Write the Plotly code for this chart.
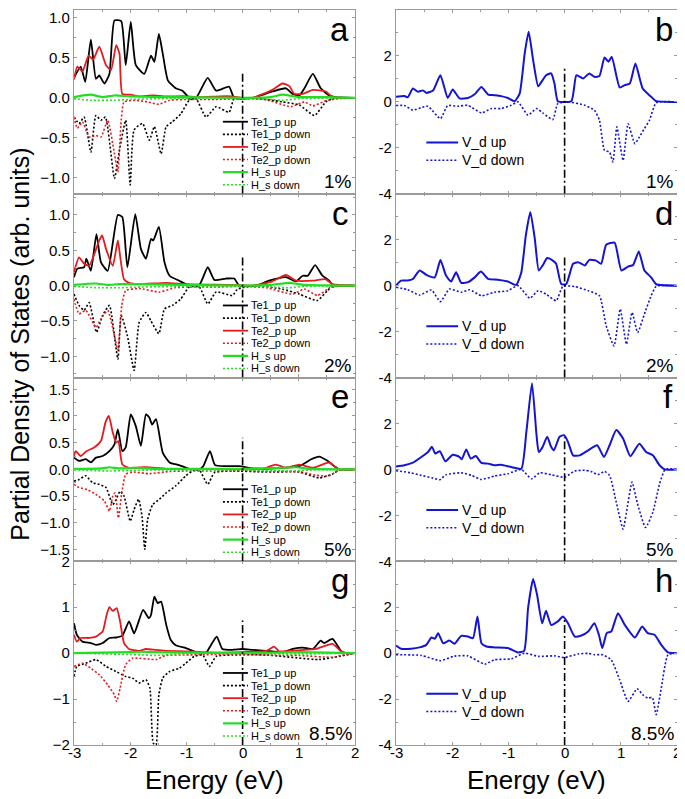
import plotly.graph_objects as go
from plotly.subplots import make_subplots

# ---------------- data (energy in eV, PDOS in arb. units) ----------------
STRAINS = ["1%", "2%", "5%", "8.5%"]
LEFT_LETTERS = ["a", "c", "e", "g"]
RIGHT_LETTERS = ["b", "d", "f", "h"]
ENERGY_TICKS = [-3, -2, -1, 0, 1, 2]
LEFT_YRANGES = [[-1.2, 1.1], [-1.3, 1.3], [-1.72, 1.72], [-2, 2]]
RIGHT_YRANGE = [-4, 4]
FERMI_TOP_LEFT = [0.33, 0.42, 0.59, 0.71]
FERMI_TOP_RIGHT = [1.53, 1.24, 1.40, 1.53]
LEFT_NAMES = ["Te1_p up", "Te1_p down", "Te2_p up", "Te2_p down", "H_s up", "H_s down"]
RIGHT_NAMES = ["V_d up", "V_d down"]

# ---- panel a (1%) ----
a_te1_up = [(-3.0,0.25),(-2.88,0.39),(-2.80,0.2),(-2.70,0.73),(-2.61,0.24),(-2.55,0.28),(-2.46,0.18),(-2.37,0.30),(-2.28,0.97),(-2.16,0.96),(-2.08,0.41),(-1.99,0.95),(-1.90,0.41),(-1.75,0.30),(-1.63,0.53),(-1.57,0.45),(-1.49,0.80),(-1.42,0.55),(-1.33,0.22),(-1.19,0.12),(-1.07,0.09),(-0.95,0.0),(-0.83,0.0),(-0.62,0.25),(-0.47,0.09),(-0.24,0.14),(-0.15,0.0),(0.18,0.0),(0.53,0.08),(0.77,0.12),(0.89,0.05),(1.01,0.03),(1.10,0.12),(1.25,0.30),(1.39,0.12),(1.54,0.03),(1.66,0.01),(2.0,0.0)]
a_te1_dn = [(-3.0,-0.24),(-2.91,-0.32),(-2.82,-0.24),(-2.70,-0.68),(-2.61,-0.22),(-2.52,-0.28),(-2.44,-0.24),(-2.28,-1.01),(-2.19,-0.65),(-2.08,-0.28),(-2.00,-1.09),(-1.93,-0.40),(-1.78,-0.32),(-1.66,-0.53),(-1.57,-0.36),(-1.45,-0.70),(-1.36,-0.36),(-1.25,-0.30),(-1.10,-0.20),(-0.95,-0.03),(-0.83,-0.01),(-0.65,-0.24),(-0.47,-0.11),(-0.24,-0.18),(-0.15,-0.01),(0.18,0.0),(0.71,-0.05),(1.01,-0.09),(1.28,-0.22),(1.48,-0.05),(1.60,-0.01),(2.0,0.0)]
a_te2_up = [(-3.0,0.23),(-2.94,0.39),(-2.85,0.33),(-2.74,0.53),(-2.66,0.48),(-2.55,0.64),(-2.43,0.41),(-2.34,0.35),(-2.25,0.66),(-2.19,0.55),(-2.14,0.05),(-1.99,0.04),(-1.84,0.02),(-1.6,0.03),(-1.4,0.02),(-1.0,0.02),(-0.8,0.01),(-0.4,0.02),(-0.2,0.02),(0.0,0.0),(0.18,0.0),(0.53,0.10),(0.71,0.18),(0.83,0.15),(0.92,0.05),(1.07,0.05),(1.25,0.10),(1.48,0.08),(1.60,0.01),(2.0,0.0)]
a_te2_dn = [(-3.0,-0.24),(-2.94,-0.38),(-2.85,-0.30),(-2.73,-0.49),(-2.61,-0.47),(-2.52,-0.49),(-2.40,-0.28),(-2.28,-0.70),(-2.22,-0.93),(-2.16,-0.28),(-2.11,-0.05),(-1.9,-0.03),(-1.7,-0.05),(-1.49,-0.08),(-1.3,-0.03),(-1.0,-0.02),(-0.5,-0.02),(0.0,-0.01),(0.4,-0.02),(0.86,-0.11),(1.1,-0.05),(1.25,-0.10),(1.5,-0.03),(1.7,-0.01),(2.0,0.0)]
a_h_up = [(-3.0,0.01),(-2.7,0.04),(-2.5,0.01),(-2.28,0.03),(-2.0,0.02),(-1.5,0.01),(-1.0,0.01),(0.0,0.0),(0.5,0.01),(0.71,0.04),(1.0,0.01),(1.5,0.01),(2.0,0.0)]
a_h_dn = [(-3.0,-0.01),(-2.7,-0.03),(-2.28,-0.03),(-2.0,-0.02),(-1.5,-0.01),(0.0,0.0),(0.71,-0.03),(1.0,-0.01),(2.0,0.0)]

# ---- panel b (1%) ----
b_up = [(-3.0,0.22),(-2.85,0.26),(-2.79,0.20),(-2.70,0.58),(-2.61,0.44),(-2.52,0.50),(-2.46,0.39),(-2.34,0.50),(-2.21,1.16),(-2.08,0.17),(-1.99,0.54),(-1.87,0.15),(-1.72,0.17),(-1.60,0.33),(-1.48,0.65),(-1.36,0.32),(-1.25,0.29),(-1.13,0.25),(-1.01,0.17),(-0.89,0.03),(-0.80,0.36),(-0.71,2.11),(-0.64,3.05),(-0.56,1.82),(-0.47,0.68),(-0.39,0.95),(-0.33,1.16),(-0.24,1.24),(-0.18,0.80),(-0.12,0.03),(0.12,0.03),(0.21,1.16),(0.33,1.02),(0.44,1.24),(0.53,1.09),(0.62,1.13),(0.71,1.93),(0.78,1.75),(0.84,1.96),(0.98,0.63),(1.07,0.73),(1.16,0.80),(1.26,1.67),(1.39,0.58),(1.54,0.22),(1.63,0.03),(2.0,0.0)]
b_dn = [(-3.0,-0.16),(-2.85,-0.16),(-2.70,-0.36),(-2.55,-0.25),(-2.43,-0.19),(-2.21,-0.73),(-2.08,-0.16),(-1.90,-0.19),(-1.72,-0.15),(-1.48,-0.48),(-1.30,-0.29),(-1.13,-0.29),(-0.95,-0.15),(-0.83,0.0),(-0.65,-0.58),(-0.50,-0.29),(-0.39,-0.48),(-0.21,-0.77),(-0.12,-0.07),(0.06,0.0),(0.36,-0.15),(0.53,-0.36),(0.62,-0.80),(0.71,-2.11),(0.80,-2.18),(0.86,-2.62),(0.93,-1.09),(1.04,-2.55),(1.13,-0.95),(1.25,-1.82),(1.33,-1.53),(1.42,-1.16),(1.51,-0.80),(1.63,-0.04),(2.0,0.0)]

# ---- panel c (2%) ----
c_te1_up = [(-3.0,0.12),(-2.94,0.24),(-2.82,0.26),(-2.78,0.38),(-2.70,0.21),(-2.60,0.73),(-2.52,0.33),(-2.40,0.21),(-2.22,1.00),(-2.14,0.97),(-2.05,0.26),(-1.91,1.01),(-1.81,0.52),(-1.72,0.38),(-1.63,0.66),(-1.59,0.64),(-1.49,0.83),(-1.39,0.33),(-1.30,0.14),(-1.13,0.07),(-0.98,0.01),(-0.77,0.01),(-0.62,0.26),(-0.50,0.08),(-0.30,0.10),(-0.15,0.10),(-0.06,0.0),(0.24,0.0),(0.47,0.07),(0.77,0.12),(0.95,0.06),(1.07,0.14),(1.16,0.14),(1.29,0.29),(1.42,0.14),(1.54,0.07),(1.60,0.01),(2.0,0.0)]
c_te1_dn = [(-3.0,-0.12),(-2.91,-0.28),(-2.82,-0.35),(-2.73,-0.24),(-2.60,-0.66),(-2.49,-0.42),(-2.37,-0.28),(-2.22,-1.04),(-2.16,-0.42),(-2.05,-0.71),(-1.93,-1.20),(-1.84,-0.52),(-1.72,-0.38),(-1.63,-0.50),(-1.49,-0.68),(-1.39,-0.33),(-1.25,-0.28),(-1.10,-0.19),(-0.95,-0.02),(-0.77,-0.02),(-0.62,-0.26),(-0.47,-0.09),(-0.18,-0.14),(-0.09,-0.05),(0.24,0.0),(0.71,-0.05),(1.01,-0.12),(1.33,-0.21),(1.51,-0.07),(1.60,-0.01),(2.0,0.0)]
c_te2_up = [(-3.0,0.19),(-2.91,0.40),(-2.82,0.31),(-2.73,0.28),(-2.55,0.64),(-2.50,0.71),(-2.43,0.52),(-2.31,0.28),(-2.22,0.64),(-2.18,0.42),(-2.11,0.09),(-2.02,0.04),(-1.84,0.02),(-1.36,0.04),(-1.01,0.02),(-0.18,0.01),(0.18,0.0),(0.53,0.06),(0.77,0.15),(0.95,0.07),(1.25,0.07),(1.48,0.09),(1.60,0.02),(2.0,0.0)]
c_te2_dn = [(-3.0,-0.19),(-2.91,-0.40),(-2.79,-0.35),(-2.61,-0.59),(-2.52,-0.47),(-2.40,-0.35),(-2.28,-0.71),(-2.22,-0.92),(-2.15,-0.28),(-2.08,-0.07),(-1.84,-0.04),(-1.48,-0.09),(-1.2,-0.03),(-1.0,-0.02),(-0.5,-0.02),(0.0,-0.01),(0.42,-0.03),(0.89,-0.12),(1.1,-0.05),(1.33,-0.14),(1.55,-0.03),(1.7,-0.01),(2.0,0.0)]
c_h_up = [(-3.0,0.01),(-2.61,0.03),(-2.4,0.01),(-2.2,0.02),(-1.8,0.02),(-1.0,0.01),(0.0,0.0),(0.5,0.01),(0.83,0.04),(1.1,0.01),(2.0,0.0)]
c_h_dn = [(-3.0,-0.01),(-2.61,-0.03),(-2.2,-0.03),(-1.8,-0.02),(-1.0,-0.01),(0.0,0.0),(0.83,-0.03),(1.1,-0.01),(2.0,0.0)]

# ---- panel d (2%) ----
d_up = [(-3.0,0.0),(-2.91,0.22),(-2.79,0.22),(-2.70,0.29),(-2.58,0.66),(-2.46,0.47),(-2.31,0.36),(-2.21,1.12),(-2.11,0.44),(-2.02,0.18),(-1.93,0.58),(-1.84,0.12),(-1.72,0.15),(-1.60,0.36),(-1.49,0.61),(-1.36,0.29),(-1.19,0.26),(-1.01,0.18),(-0.86,0.03),(-0.77,0.58),(-0.69,2.19),(-0.61,3.21),(-0.53,2.04),(-0.46,0.66),(-0.39,0.88),(-0.31,1.20),(-0.21,1.09),(-0.15,0.95),(-0.06,0.07),(0.03,0.07),(0.15,0.95),(0.24,1.02),(0.36,0.88),(0.44,1.12),(0.56,1.09),(0.65,0.95),(0.74,1.78),(0.89,1.87),(1.01,0.66),(1.13,0.83),(1.22,0.90),(1.32,1.49),(1.42,0.66),(1.54,0.36),(1.63,0.06),(2.0,0.0)]
d_dn = [(-3.0,-0.07),(-2.79,-0.18),(-2.58,-0.41),(-2.37,-0.19),(-2.21,-0.70),(-2.05,-0.15),(-1.84,-0.29),(-1.69,-0.18),(-1.48,-0.44),(-1.25,-0.29),(-1.01,-0.22),(-0.83,0.0),(-0.62,-0.55),(-0.47,-0.22),(-0.33,-0.37),(-0.15,-0.66),(-0.03,-0.03),(0.18,-0.04),(0.42,-0.22),(0.62,-0.44),(0.74,-1.75),(0.88,-2.63),(0.99,-1.02),(1.10,-2.55),(1.20,-1.17),(1.30,-2.04),(1.42,-1.24),(1.54,-0.44),(1.63,-0.03),(2.0,0.0)]

# ---- panel e (5%) ----
e_te1_up = [(-3.0,0.22),(-2.91,0.16),(-2.79,0.19),(-2.70,0.13),(-2.61,0.22),(-2.49,0.25),(-2.37,0.34),(-2.28,0.47),(-2.22,0.75),(-2.14,0.34),(-2.08,0.41),(-1.99,1.03),(-1.90,0.81),(-1.81,0.44),(-1.72,1.03),(-1.66,0.97),(-1.61,0.84),(-1.54,0.94),(-1.42,0.31),(-1.30,0.13),(-1.13,0.08),(-0.95,0.01),(-0.77,0.0),(-0.70,0.06),(-0.58,0.34),(-0.49,0.08),(-0.30,0.06),(-0.06,0.06),(0.18,0.02),(0.42,0.01),(1.01,0.06),(1.22,0.19),(1.36,0.24),(1.51,0.16),(1.63,0.06),(1.72,0.0),(2.0,0.0)]
e_te1_dn = [(-3.0,-0.22),(-2.91,-0.19),(-2.79,-0.12),(-2.67,-0.25),(-2.55,-0.28),(-2.43,-0.34),(-2.31,-0.66),(-2.25,-0.56),(-2.18,-0.41),(-2.11,-0.50),(-2.00,-0.97),(-1.93,-0.75),(-1.85,-0.56),(-1.79,-0.88),(-1.74,-1.50),(-1.69,-0.94),(-1.60,-0.66),(-1.48,-0.56),(-1.36,-0.44),(-1.19,-0.31),(-1.01,-0.12),(-0.86,-0.01),(-0.77,-0.01),(-0.62,-0.28),(-0.50,-0.06),(-0.18,-0.03),(0.42,-0.05),(1.01,-0.05),(1.36,-0.16),(1.60,-0.09),(1.72,-0.01),(2.0,0.0)]
e_te2_up = [(-3.0,0.25),(-2.97,0.34),(-2.88,0.25),(-2.78,0.34),(-2.64,0.41),(-2.52,0.53),(-2.44,0.88),(-2.38,1.00),(-2.31,0.69),(-2.25,0.50),(-2.21,0.53),(-2.14,0.09),(-2.02,0.03),(-1.72,0.04),(-1.36,0.01),(-0.5,0.01),(0.18,0.0),(0.42,0.03),(0.59,0.09),(0.77,0.03),(1.01,0.09),(1.25,0.03),(1.54,0.13),(1.63,0.06),(1.72,0.0),(2.0,0.0)]
e_te2_dn = [(-3.0,-0.28),(-2.91,-0.34),(-2.76,-0.38),(-2.61,-0.47),(-2.46,-0.59),(-2.37,-0.78),(-2.31,-0.50),(-2.27,-0.44),(-2.21,-0.91),(-2.15,-0.44),(-2.08,-0.09),(-1.96,-0.05),(-1.66,-0.08),(-1.3,-0.04),(-1.01,-0.03),(-0.5,-0.03),(0.0,-0.02),(0.5,-0.04),(1.0,-0.04),(1.30,-0.11),(1.54,-0.12),(1.72,-0.01),(2.0,0.0)]
e_h_up = [(-3.0,0.01),(-2.5,0.02),(-2.37,0.04),(-2.2,0.02),(-1.9,0.03),(-1.5,0.01),(0.0,0.01),(0.5,0.02),(0.95,0.04),(1.2,0.01),(2.0,0.0)]
e_h_dn = [(-3.0,-0.01),(-2.37,-0.03),(-2.0,-0.02),(-1.5,-0.01),(0.0,-0.01),(0.95,-0.03),(1.2,-0.01),(2.0,0.0)]

# ---- panel f (5%) ----
f_up = [(-3.0,0.13),(-2.85,0.18),(-2.70,0.29),(-2.55,0.54),(-2.43,0.76),(-2.36,0.98),(-2.30,0.69),(-2.22,0.79),(-2.12,0.35),(-1.99,0.64),(-1.87,0.54),(-1.83,0.44),(-1.75,0.86),(-1.67,0.47),(-1.58,0.58),(-1.48,0.28),(-1.36,0.25),(-1.25,0.18),(-1.13,0.20),(-0.95,0.10),(-0.77,0.03),(-0.68,1.64),(-0.58,3.75),(-0.50,1.50),(-0.46,0.76),(-0.39,0.98),(-0.31,1.42),(-0.24,0.98),(-0.19,0.83),(-0.09,1.42),(-0.01,1.49),(0.06,1.20),(0.15,0.61),(0.27,0.61),(0.42,0.83),(0.58,1.05),(0.70,0.54),(0.80,1.05),(0.92,1.71),(1.04,1.34),(1.17,0.57),(1.33,1.12),(1.45,0.76),(1.57,0.61),(1.69,0.18),(1.78,0.0),(2.0,0.0)]
f_dn = [(-3.0,-0.06),(-2.73,-0.15),(-2.55,-0.26),(-2.34,-0.38),(-2.22,-0.45),(-2.11,-0.23),(-1.84,-0.15),(-1.66,-0.26),(-1.48,-0.44),(-1.25,-0.29),(-1.01,-0.19),(-0.77,0.0),(-0.59,-0.41),(-0.44,-0.15),(-0.24,-0.23),(0.0,-0.34),(0.18,-0.07),(0.36,-0.04),(0.47,-0.09),(0.59,-0.23),(0.71,-0.09),(0.80,-0.26),(0.92,-1.43),(1.04,-2.60),(1.12,-1.58),(1.20,-0.55),(1.29,-1.43),(1.44,-2.53),(1.57,-1.87),(1.69,-0.63),(1.79,0.0),(2.0,0.0)]

# ---- panel g (8.5%) ----
g_te1_up = [(-3.0,0.65),(-2.95,0.40),(-2.85,0.25),(-2.70,0.22),(-2.61,0.18),(-2.49,0.22),(-2.37,0.33),(-2.25,0.34),(-2.14,0.38),(-2.02,0.69),(-1.93,0.43),(-1.77,0.94),(-1.67,0.76),(-1.63,0.83),(-1.57,1.23),(-1.51,1.09),(-1.45,1.12),(-1.36,0.62),(-1.28,0.29),(-1.19,0.17),(-1.01,0.11),(-0.83,0.02),(-0.65,0.01),(-0.58,0.14),(-0.46,0.36),(-0.36,0.09),(-0.18,0.07),(0.0,0.09),(0.18,0.07),(0.42,0.05),(0.71,0.02),(0.89,0.09),(1.07,0.12),(1.25,0.09),(1.39,0.27),(1.45,0.22),(1.60,0.31),(1.75,0.05),(1.84,0.0),(2.0,0.0)]
g_te1_dn = [(-3.0,-0.51),(-2.95,-0.29),(-2.79,-0.22),(-2.61,-0.14),(-2.43,-0.29),(-2.25,-0.40),(-2.08,-0.51),(-1.96,-0.54),(-1.84,-0.65),(-1.72,-0.58),(-1.65,-0.76),(-1.59,-1.96),(-1.54,-2.0),(-1.49,-0.91),(-1.42,-0.54),(-1.30,-0.40),(-1.13,-0.33),(-1.01,-0.22),(-0.86,-0.07),(-0.71,-0.04),(-0.59,-0.29),(-0.47,-0.07),(-0.18,-0.04),(0.42,-0.04),(1.36,-0.14),(1.72,-0.07),(2.0,0.0)]
g_te2_up = [(-3.0,0.40),(-2.95,0.25),(-2.88,0.33),(-2.73,0.33),(-2.61,0.36),(-2.49,0.47),(-2.42,0.83),(-2.37,1.00),(-2.31,0.92),(-2.24,0.98),(-2.18,0.69),(-2.11,0.22),(-2.02,0.09),(-1.84,0.05),(-1.72,0.09),(-1.54,0.07),(-1.36,0.05),(-1.01,0.04),(-0.5,0.01),(0.42,0.05),(0.56,0.14),(0.65,0.04),(0.89,0.05),(1.30,0.09),(1.60,0.20),(1.75,0.04),(1.84,0.0),(2.0,0.0)]
g_te2_dn = [(-3.0,-0.29),(-2.85,-0.22),(-2.70,-0.33),(-2.55,-0.47),(-2.40,-0.69),(-2.28,-0.91),(-2.24,-1.05),(-2.18,-0.76),(-2.08,-0.25),(-1.96,-0.11),(-1.54,-0.14),(-1.36,-0.05),(-1.0,-0.04),(-0.5,-0.03),(0.0,-0.03),(0.71,-0.05),(1.0,-0.05),(1.60,-0.09),(1.78,-0.04),(2.0,0.0)]
g_h_up = [(-3.0,0.0),(-2.0,0.02),(-1.8,0.03),(-1.55,0.02),(-1.0,0.01),(0.0,0.0),(0.5,0.01),(1.0,0.02),(1.5,0.01),(2.0,0.0)]
g_h_dn = [(-3.0,0.0),(-2.0,-0.03),(-1.8,-0.04),(-1.55,-0.05),(-1.0,-0.01),(0.0,0.0),(1.0,-0.02),(2.0,0.0)]

# ---- panel h (8.5%) ----
h_up = [(-3.0,0.33),(-2.91,0.19),(-2.73,0.19),(-2.58,0.25),(-2.46,0.36),(-2.37,0.68),(-2.31,0.62),(-2.25,0.87),(-2.16,0.43),(-2.05,0.55),(-1.96,0.41),(-1.84,0.75),(-1.72,0.72),(-1.63,0.65),(-1.55,1.59),(-1.48,0.43),(-1.39,0.29),(-1.25,0.25),(-1.01,0.22),(-0.83,0.03),(-0.72,0.10),(-0.65,1.96),(-0.56,3.23),(-0.49,2.54),(-0.40,1.30),(-0.33,1.84),(-0.24,1.23),(-0.12,1.38),(-0.03,1.59),(0.06,1.30),(0.18,0.72),(0.30,0.77),(0.42,0.94),(0.53,1.30),(0.61,0.80),(0.67,0.22),(0.75,0.87),(0.83,0.94),(0.95,1.74),(1.07,1.23),(1.25,0.68),(1.38,1.16),(1.48,0.87),(1.60,0.80),(1.72,0.36),(1.84,0.03),(2.0,0.0)]
h_dn = [(-3.0,-0.07),(-2.55,-0.10),(-2.21,-0.33),(-1.96,-0.13),(-1.72,-0.12),(-1.42,-0.48),(-1.25,-0.29),(-0.95,-0.25),(-0.71,0.0),(-0.47,-0.14),(-0.18,-0.12),(0.0,-0.19),(0.24,-0.04),(0.42,-0.01),(0.53,-0.07),(0.68,-0.07),(0.83,-0.29),(0.98,-1.16),(1.13,-2.10),(1.29,-1.55),(1.39,-1.81),(1.48,-1.96),(1.56,-1.93),(1.63,-2.68),(1.72,-1.52),(1.84,-0.07),(2.0,0.0)]

LEFT_SERIES = [
    [a_te1_up, a_te1_dn, a_te2_up, a_te2_dn, a_h_up, a_h_dn],
    [c_te1_up, c_te1_dn, c_te2_up, c_te2_dn, c_h_up, c_h_dn],
    [e_te1_up, e_te1_dn, e_te2_up, e_te2_dn, e_h_up, e_h_dn],
    [g_te1_up, g_te1_dn, g_te2_up, g_te2_dn, g_h_up, g_h_dn],
]
RIGHT_SERIES = [[b_up, b_dn], [d_up, d_dn], [f_up, f_dn], [h_up, h_dn]]

# ---------------- styling ----------------
FONT = "Arial, 'Liberation Sans', sans-serif"
BLACK, RED, GREEN, BLUE = "#000000", "#e41a1c", "#22dd22", "#1414d2"
FRAME = "#9a9a9a"
DOT = "2px,2px"
LEFT_STYLE = [(BLACK, "solid", 1.8), (BLACK, DOT, 1.6), (RED, "solid", 1.8),
              (RED, DOT, 1.6), (GREEN, "solid", 2.2), (GREEN, DOT, 1.6)]
RIGHT_STYLE = [(BLUE, "solid", 2.0), (BLUE, DOT, 1.6)]

fig = make_subplots(rows=4, cols=2, vertical_spacing=0, horizontal_spacing=0.068)

def add_series(series, styles, row, col):
    for pts, (color, dash, w) in zip(series, styles):
        fig.add_trace(go.Scatter(x=[p[0] for p in pts], y=[p[1] for p in pts],
                                 mode="lines", showlegend=False, hoverinfo="skip",
                                 line=dict(color=color, width=w, dash=dash,
                                           shape="spline", smoothing=0.5)),
                      row=row, col=col)

for i in range(4):
    add_series(LEFT_SERIES[i], LEFT_STYLE, i + 1, 1)
    add_series(RIGHT_SERIES[i], RIGHT_STYLE, i + 1, 2)

axis_common = dict(showline=True, linecolor=FRAME, linewidth=1.2, mirror="ticks",
                   ticks="inside", ticklen=3, tickcolor=FRAME, showgrid=False,
                   zeroline=False, automargin=False,
                   tickfont=dict(family=FONT, size=15, color="black"))

for i in range(4):
    for col in (1, 2):
        fig.update_xaxes(range=[-3, 2], tickmode="array", tickvals=ENERGY_TICKS,
                         showticklabels=False,
                         minor=dict(dtick=0.5, ticks="inside", ticklen=2, tickcolor=FRAME),
                         row=i + 1, col=col, **axis_common)
    if i < 3:
        fig.update_yaxes(range=LEFT_YRANGES[i], dtick=0.5, tick0=0, tickformat=".1f",
                         minor=dict(dtick=0.25, ticks="inside", ticklen=2, tickcolor=FRAME),
                         row=i + 1, col=1, **axis_common)
    else:
        fig.update_yaxes(range=LEFT_YRANGES[i], dtick=1, tick0=0, tickformat="d",
                         minor=dict(dtick=0.5, ticks="inside", ticklen=2, tickcolor=FRAME),
                         row=i + 1, col=1, **axis_common)
    rt = [-4, -2, 0, 2, 4] if i == 0 else [-4, -2, 0, 2]
    fig.update_yaxes(range=RIGHT_YRANGE, tickmode="array", tickvals=rt,
                     ticktext=[str(v) for v in rt],
                     minor=dict(dtick=1, ticks="inside", ticklen=2, tickcolor=FRAME),
                     row=i + 1, col=2, **axis_common)

shapes, annos = [], []
for i in range(4):
    for col in (1, 2):
        k = i * 2 + col
        xr = "x" if k == 1 else f"x{k}"
        yr = "y" if k == 1 else f"y{k}"
        yrange = LEFT_YRANGES[i] if col == 1 else RIGHT_YRANGE
        top = FERMI_TOP_LEFT[i] if col == 1 else FERMI_TOP_RIGHT[i]
        shapes.append(dict(type="line", xref=xr, yref=yr, x0=0, x1=0, y0=yrange[0], y1=top,
                           line=dict(color="black", width=1.6, dash="8px,3px,2px,3px")))
        if col == 1:
            names, styles = LEFT_NAMES, LEFT_STYLE
            lx0, lx1, tx, ytop, step, fs = 0.530, 0.619, 0.624, 0.392, 0.0686, 11
        else:
            names, styles = RIGHT_NAMES, RIGHT_STYLE
            lx0, lx1, tx, ytop, step, fs = 0.108, 0.221, 0.229, 0.279, 0.097, 14
        for j, (nm, (color, dash, w)) in enumerate(zip(names, styles)):
            yy = ytop - j * step
            shapes.append(dict(type="line", xref=f"{xr} domain", yref=f"{yr} domain",
                               x0=lx0, x1=lx1, y0=yy, y1=yy,
                               line=dict(color=color, width=w, dash=dash)))
            annos.append(dict(text=nm, xref=f"{xr} domain", yref=f"{yr} domain",
                              x=tx, y=yy, xanchor="left", yanchor="middle", showarrow=False,
                              font=dict(family=FONT, size=fs, color="black")))
        letter = LEFT_LETTERS[i] if col == 1 else RIGHT_LETTERS[i]
        annos.append(dict(text=letter, xref=f"{xr} domain", yref=f"{yr} domain",
                          x=0.985 if col == 1 else 0.992, y=0.895, xanchor="right",
                          yanchor="middle", showarrow=False,
                          font=dict(family=FONT, size=33, color="black")))
        annos.append(dict(text=STRAINS[i], xref=f"{xr} domain", yref=f"{yr} domain",
                          x=0.997, y=0.065, xanchor="right", yanchor="middle",
                          showarrow=False, font=dict(family=FONT, size=19, color="black")))

# energy tick labels under the bottom row (placed close to the axis, as in the original)
for xr in ("x7", "x8"):
    for t in ENERGY_TICKS:
        annos.append(dict(text=str(t), xref=xr, yref="paper", x=t, y=-0.0105,
                          xanchor="center", yanchor="middle", showarrow=False,
                          font=dict(family=FONT, size=15, color="black")))

annos.append(dict(text="Partial Density of States (arb. units)", xref="paper", yref="paper",
                  x=-0.0896, y=0.546, textangle=-90, xanchor="center", yanchor="middle",
                  showarrow=False, font=dict(family=FONT, size=25, color="black")))
for cx in (0.233, 0.767):
    annos.append(dict(text="Energy (eV)", xref="paper", yref="paper", x=cx, y=-0.048,
                      xanchor="center", yanchor="middle", showarrow=False,
                      font=dict(family=FONT, size=26, color="black")))

# the page body adds an 8 px margin, so the figure is 8 px smaller and shifted accordingly
fig.update_layout(width=677, height=791, margin=dict(l=66, r=8, t=2, b=54, autoexpand=False),
                  plot_bgcolor="white", paper_bgcolor="white",
                  shapes=shapes, annotations=annos, showlegend=False,
                  font=dict(family=FONT, color="black"))

fig.write_html("out.html")
